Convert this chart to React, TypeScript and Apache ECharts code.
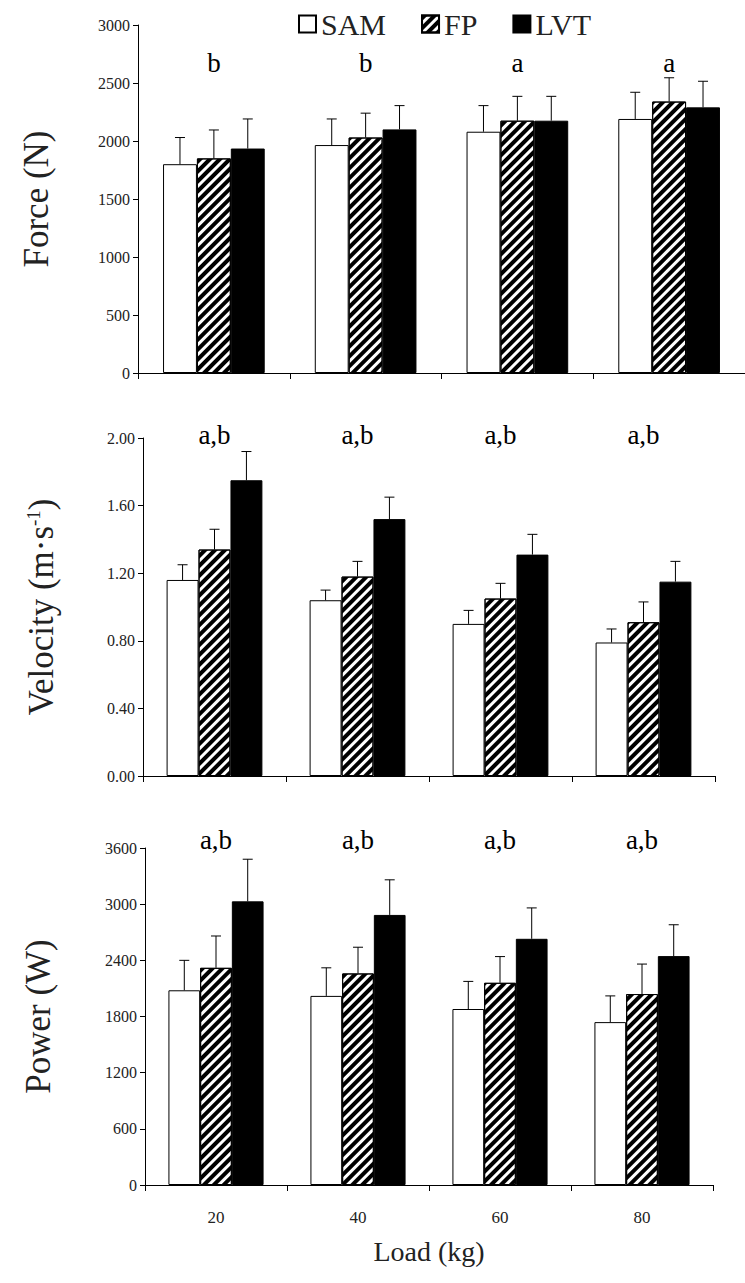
import React, { useEffect, useRef } from "react";
import * as echarts from "echarts";

const categories = ["20", "40", "60", "80"];
const seriesNames = ["SAM", "FP", "LVT"];

const forceSAM = [1800, 1965, 2080, 2190];
const forceFP = [1850, 2030, 2175, 2340];
const forceLVT = [1935, 2100, 2175, 2290];
const forceSAMsd = [230, 225, 225, 230];
const forceFPsd = [245, 210, 210, 205];
const forceLVTsd = [255, 205, 210, 225];
const forceLetters = ["b", "b", "a", "a"];

const velSAM = [1.16, 1.04, 0.9, 0.79];
const velFP = [1.34, 1.18, 1.05, 0.91];
const velLVT = [1.75, 1.52, 1.31, 1.15];
const velSAMsd = [0.09, 0.06, 0.08, 0.08];
const velFPsd = [0.12, 0.09, 0.09, 0.12];
const velLVTsd = [0.17, 0.13, 0.12, 0.12];
const velLetters = ["a,b", "a,b", "a,b", "a,b"];

const powSAM = [2080, 2020, 1880, 1740];
const powFP = [2320, 2260, 2160, 2040];
const powLVT = [3030, 2885, 2630, 2445];
const powSAMsd = [320, 300, 295, 280];
const powFPsd = [340, 280, 280, 320];
const powLVTsd = [450, 375, 330, 335];
const powLetters = ["a,b", "a,b", "a,b", "a,b"];

const FONT = "'Liberation Serif', 'Times New Roman', 'DejaVu Serif', serif";
const GAP = 0.33;

const styles = [
  { color: "#ffffff", borderColor: "#000", borderWidth: 1 },
  {
    color: "#ffffff",
    borderColor: "#000",
    borderWidth: 1,
    decal: {
      symbol: "rect",
      symbolSize: 1,
      color: "#000",
      backgroundColor: "#fff",
      dashArrayX: [1, 0],
      dashArrayY: [4, 3],
      rotation: -Math.PI / 4,
    },
  },
  { color: "#000000", borderColor: "#000", borderWidth: 1 },
];

function barSeries(k: number, idx: number, data: number[]) {
  return {
    type: "bar",
    name: seriesNames[k],
    xAxisIndex: idx,
    yAxisIndex: idx,
    data,
    barCategoryGap: GAP * 100 + "%",
    barGap: "0%",
    itemStyle: styles[k],
    z: 2,
  };
}

function errSeries(k: number, idx: number, means: number[], sds: number[]) {
  return {
    type: "custom",
    name: seriesNames[k] + " SD",
    xAxisIndex: idx,
    yAxisIndex: idx,
    data: means.map((m, i) => [i, m, m + sds[i]]),
    z: 5,
    renderItem: (params: any, api: any) => {
      const i = api.value(0);
      const p0 = api.coord([i, api.value(1)]);
      const p1 = api.coord([i, api.value(2)]);
      const catW = api.size([1, 0])[0];
      const bw = (catW * (1 - GAP)) / 3;
      const x = p0[0] + (k - 1) * bw;
      return {
        type: "group",
        children: [
          {
            type: "line",
            shape: { x1: x, y1: p0[1], x2: x, y2: p1[1] },
            style: { stroke: "#000", lineWidth: 1 },
          },
          {
            type: "line",
            shape: { x1: x - 5, y1: p1[1], x2: x + 5, y2: p1[1] },
            style: { stroke: "#000", lineWidth: 1 },
          },
        ],
      };
    },
  };
}

function letterSeries(idx: number, letters: string[], yMax: number, off: number) {
  return {
    type: "custom",
    name: "letters" + idx,
    xAxisIndex: idx,
    yAxisIndex: idx,
    data: letters.map((_, i) => [i]),
    z: 6,
    renderItem: (params: any, api: any) => {
      const p = api.coord([api.value(0), yMax]);
      return {
        type: "text",
        x: p[0],
        y: p[1] + off,
        style: {
          text: letters[params.dataIndex],
          align: "center",
          verticalAlign: "middle",
          fontSize: 27,
          fontFamily: FONT,
          fill: "#000",
        },
      };
    },
  };
}

function xAxis(idx: number, showLabels: boolean) {
  return {
    type: "category",
    gridIndex: idx,
    data: categories,
    axisLine: { lineStyle: { color: "#000", width: 1 } },
    axisTick: { show: true, length: 6, lineStyle: { color: "#000" } },
    axisLabel: {
      show: showLabels,
      fontSize: 17,
      fontFamily: FONT,
      color: "#222",
      margin: 24,
    },
    name: showLabels ? "Load (kg)" : "",
    nameLocation: "middle",
    nameGap: 52,
    nameTextStyle: { fontSize: 28, fontFamily: FONT, color: "#222" },
  };
}

function yAxis(idx: number, name: string, max: number, interval: number, dec: number, gap: number) {
  return {
    type: "value",
    gridIndex: idx,
    min: 0,
    max,
    interval,
    name,
    nameLocation: "middle",
    nameGap: gap,
    nameTextStyle: {
      fontSize: 35,
      fontFamily: FONT,
      color: "#222",
      rich: {
        a: { fontSize: 35, fontFamily: FONT, color: "#222" },
        s: { fontSize: 19, fontFamily: FONT, color: "#222", verticalAlign: "top", padding: [0, 0, 15, 0] },
      },
    },
    axisLine: { show: true, lineStyle: { color: "#000", width: 1 } },
    axisTick: { show: true, length: 5, lineStyle: { color: "#000" } },
    splitLine: { show: false },
    axisLabel: {
      fontSize: 16,
      fontFamily: FONT,
      color: "#222",
      margin: 8,
      formatter: (v: number) => v.toFixed(dec),
    },
  };
}

export default function App() {
  const ref = useRef<HTMLDivElement>(null);
  useEffect(() => {
    if (!ref.current) return;
    const chart = echarts.init(ref.current, null, { renderer: "svg" });
    const option: any = {
      animation: false,
      backgroundColor: "#fff",
      textStyle: { fontFamily: FONT },
      legend: {
        data: seriesNames.map((n) => ({ name: n, icon: "rect" })),
        left: 293,
        top: 4,
        itemWidth: 17,
        itemHeight: 17,
        itemGap: 35,
        selectedMode: false,
        textStyle: { fontSize: 30, fontFamily: FONT, color: "#222", padding: [0, 0, 0, 0] },
      },
      grid: [
        { left: 138, top: 25, width: 607, height: 348 },
        { left: 143, top: 438, width: 572, height: 338 },
        { left: 145, top: 848, width: 568, height: 337 },
      ],
      xAxis: [xAxis(0, false), xAxis(1, false), xAxis(2, true)],
      yAxis: [
        yAxis(0, "Force (N)", 3000, 500, 0, 84),
        yAxis(1, "{a|Velocity (m·s}{s|-1}{a|)}", 2, 0.4, 2, 84),
        yAxis(2, "Power (W)", 3600, 600, 0, 89),
      ],
      series: [
        barSeries(0, 0, forceSAM),
        barSeries(1, 0, forceFP),
        barSeries(2, 0, forceLVT),
        errSeries(0, 0, forceSAM, forceSAMsd),
        errSeries(1, 0, forceFP, forceFPsd),
        errSeries(2, 0, forceLVT, forceLVTsd),
        letterSeries(0, forceLetters, 3000, 38),
        barSeries(0, 1, velSAM),
        barSeries(1, 1, velFP),
        barSeries(2, 1, velLVT),
        errSeries(0, 1, velSAM, velSAMsd),
        errSeries(1, 1, velFP, velFPsd),
        errSeries(2, 1, velLVT, velLVTsd),
        letterSeries(1, velLetters, 2, -3),
        barSeries(0, 2, powSAM),
        barSeries(1, 2, powFP),
        barSeries(2, 2, powLVT),
        errSeries(0, 2, powSAM, powSAMsd),
        errSeries(1, 2, powFP, powFPsd),
        errSeries(2, 2, powLVT, powLVTsd),
        letterSeries(2, powLetters, 3600, -8),
      ],
    };
    chart.setOption(option);
    return () => chart.dispose();
  }, []);
  return (
    <div
      ref={ref}
      style={{ position: "absolute", left: 0, top: 0, width: 745, height: 1283, background: "#fff" }}
    />
  );
}
